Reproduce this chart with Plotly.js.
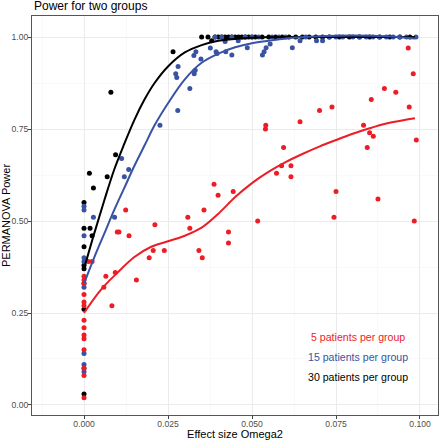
<!DOCTYPE html>
<html>
<head>
<meta charset="utf-8">
<script src="https://cdn.plot.ly/plotly-3.0.1.min.js"></script>
<style>html,body{margin:0;padding:0;background:#fff;}#chart{width:439px;height:440px;}</style>
</head>
<body>
<div id="chart"></div>
<script>
// ---- data ----
const chartTitle = "Power for two groups";
const seriesNames = ["5 patients per group", "15 patients per group", "30 patients per group"];

const redX = [0,0,0,0,0,0,0,0,0,0,0,0,0,0,
  0.0013,0.0024,0.0059,0.0065,0.0083,0.0093,0.0099,0.0104,0.0124,0.0134,0.0156,0.0194,0.0206,0.0211,0.0239,
  0.0309,0.0315,0.0342,0.0352,0.0357,0.0387,0.0399,0.043,0.043,0.0444,0.0517,0.054,0.0541,0.0573,0.0588,
  0.0594,0.0616,0.0616,0.0643,0.0701,0.0738,0.0744,0.075,0.0832,0.0843,0.085,0.0855,0.0861,0.0875,0.0894,
  0.0928,0.0965,0.0968,0.098,0.0983,0.0989];
const redY = [0.35,0.34,0.33,0.30,0.28,0.27,0.23,0.21,0.19,0.18,0.15,0.10,0.08,0.02,
  0.39,0.39,0.32,0.35,0.27,0.36,0.47,0.47,0.53,0.46,0.34,0.40,0.42,0.49,0.42,
  0.51,0.48,0.42,0.40,0.53,0.60,0.57,0.47,0.44,0.58,0.50,0.75,0.76,0.63,0.65,
  0.70,0.65,0.62,0.77,0.80,0.81,0.51,0.58,0.76,0.70,0.74,0.83,0.73,0.56,0.86,
  0.85,0.97,0.81,0.90,0.50,0.72];

const blueX = [0,0,0,0,0,0,0,0,0,0,0,
  0.0028,0.0091,0.0112,0.0133,0.012,0.0226,0.0279,0.0273,0.0276,0.028,0.0315,0.0328,0.0331,0.0327,0.0333,
  0.0348,0.0376,0.0393,0.0396,0.0422,0.044,0.0459,0.0486,0.0531,0.0536,0.0542,0.0554,0.062,0.0643,0.0692,
  0.071,0.042,
  0.039,0.041,0.044,0.048,0.050,0.052,0.056,0.058,0.060,0.066,0.073,0.075,0.077,0.080,0.082,0.084,0.086,
  0.088,0.090,0.092,0.094,0.096,0.0988];
const blueY = [0.54,0.53,0.46,0.40,0.39,0.33,0.32,0.14,0.11,0.10,0.09,
  0.51,0.51,0.67,0.64,0.62,0.76,0.80,0.90,0.89,0.92,0.86,0.90,0.91,0.95,0.96,
  0.94,0.97,0.96,0.955,0.96,0.951,0.99,0.971,0.951,0.96,0.971,0.981,0.971,0.99,0.99,
  0.99,0.988,
  1,1,1,1,1,1,1,1,1,1,1,1,1,1,1,1,1,
  1,1,1,1,1,1];

const blackX = [0,0,0,0,0,0,0,
  0.0016,0.0028,0.0018,0.0024,0.0069,0.008,0.0094,0.0265,0.0369,0.038,
  0.035,0.039,0.040,0.041,0.042,0.043,0.044,0.045,0.046,0.047,0.048,0.049,0.050,0.051,0.053,0.055,0.057,
  0.059,0.061,0.063,0.065,0.067,0.069,0.071,0.073,0.076,0.079,0.082,0.085,0.088,0.091,0.094,0.097];
const blackY = [0.55,0.48,0.43,0.38,0.37,0.26,0.03,
  0.63,0.59,0.48,0.46,0.62,0.85,0.68,0.96,1.0,0.99,
  1,1,1,1,1,1,1,1,1,1,1,1,1,1,1,1,1,
  1,1,1,1,1,1,1,1,1,1,1,1,1,1,1,1];

// smoothed (loess) curves
const redSmoothX = [0,0.005,0.01,0.015,0.02,0.025,0.03,0.035,0.04,0.045,0.05,0.055,0.06,0.065,0.07,0.075,0.08,0.085,0.09,0.095,0.0985];
const redSmoothY = [0.25,0.313,0.36,0.402,0.43,0.445,0.46,0.482,0.52,0.565,0.603,0.634,0.66,0.682,0.702,0.72,0.737,0.752,0.765,0.774,0.779];
const blueSmoothX = [0,0.003,0.006,0.009,0.012,0.015,0.018,0.021,0.025,0.03,0.035,0.04,0.045,0.05,0.055,0.06,0.07,0.08,0.09,0.0985];
const blueSmoothY = [0.33,0.40,0.465,0.53,0.59,0.65,0.705,0.76,0.82,0.885,0.93,0.955,0.972,0.983,0.99,0.996,1.002,1.004,1.002,0.996];
const blackSmoothX = [0,0.003,0.006,0.009,0.012,0.015,0.018,0.021,0.025,0.03,0.035,0.04,0.05,0.06,0.07,0.08,0.09,0.0985];
const blackSmoothY = [0.37,0.465,0.555,0.64,0.71,0.775,0.83,0.875,0.92,0.958,0.978,0.99,0.998,1.0,1.0,1.0,1.0,1.0];

const xTickVals = [0, 0.025, 0.05, 0.075, 0.1];
const xTickText = ["0.000", "0.025", "0.050", "0.075", "0.100"];
const yTickVals = [0, 0.25, 0.5, 0.75, 1];
const yTickText = ["0.00", "0.25", "0.50", "0.75", "1.00"];

const RED = "#ee1c25", BLUE = "#3853a4", BLACK = "#000000";
const FONT = "Liberation Sans, Arial, sans-serif";

function pts(x, y, c, name) {
  return {x: x, y: y, type: "scatter", mode: "markers", name: name, showlegend: false,
    marker: {color: c, size: 5}, hoverinfo: "skip"};
}
function line(x, y, c, name) {
  return {x: x, y: y, type: "scatter", mode: "lines", name: name, showlegend: false,
    line: {color: c, width: 2, shape: "spline", smoothing: 1}, hoverinfo: "skip"};
}

const data = [
  pts(blackX, blackY, BLACK, seriesNames[2]),
  pts(blueX, blueY, BLUE, seriesNames[1]),
  pts(redX, redY, RED, seriesNames[0]),
  line(blackSmoothX, blackSmoothY, BLACK, seriesNames[2]),
  line(blueSmoothX, blueSmoothY, BLUE, seriesNames[1]),
  line(redSmoothX, redSmoothY, RED, seriesNames[0])
];

const layout = {
  width: 439, height: 440,
  margin: {l: 32, r: 1, t: 16, b: 25, pad: 0},
  paper_bgcolor: "#ffffff", plot_bgcolor: "#ffffff",
  font: {family: FONT, color: "#000"},
  xaxis: {
    range: [-0.01548, 0.10536], tickvals: xTickVals, ticktext: xTickText,
    showgrid: true, gridcolor: "#ebebeb", gridwidth: 1, zeroline: false,
    minor: {dtick: 0.0125, tick0: 0, showgrid: true, gridcolor: "#f5f5f5", gridwidth: 0.6},
    showline: true, mirror: true, linecolor: "#555", linewidth: 1,
    ticks: "outside", ticklen: 3, tickcolor: "#444", tickwidth: 1,
    ticklabelstandoff: -2,
    tickfont: {size: 8.6, color: "#4d4d4d", family: FONT},
    title: {text: "Effect size Omega2", font: {size: 11, color: "#000", family: FONT}, standoff: 4},
    automargin: false, fixedrange: true
  },
  yaxis: {
    range: [-0.0272, 1.0571], tickvals: yTickVals, ticktext: yTickText,
    showgrid: true, gridcolor: "#ebebeb", gridwidth: 1, zeroline: false,
    minor: {dtick: 0.125, tick0: 0, showgrid: true, gridcolor: "#f5f5f5", gridwidth: 0.6},
    showline: true, mirror: true, linecolor: "#555", linewidth: 1,
    ticks: "outside", ticklen: 3, tickcolor: "#444", tickwidth: 1,
    ticklabelstandoff: -2,
    tickfont: {size: 8.6, color: "#4d4d4d", family: FONT},
    title: {text: "PERMANOVA Power", font: {size: 11, color: "#000", family: FONT}, standoff: 4},
    automargin: false, fixedrange: true
  },
  annotations: [
    {text: chartTitle, x: 0, y: 1 + 10/399, xref: "paper", yref: "paper", showarrow: false,
      font: {size: 12, color: "#000", family: FONT}, xanchor: "left", yanchor: "middle"},
    {text: seriesNames[0], x: 0.0814, y: 0.1856, xref: "x", yref: "y", showarrow: false,
      font: {size: 10.6, color: RED, family: FONT}, xanchor: "center", yanchor: "middle"},
    {text: seriesNames[1], x: 0.0814, y: 0.1313, xref: "x", yref: "y", showarrow: false,
      font: {size: 10.6, color: BLUE, family: FONT}, xanchor: "center", yanchor: "middle"},
    {text: seriesNames[2], x: 0.0814, y: 0.0769, xref: "x", yref: "y", showarrow: false,
      font: {size: 10.6, color: BLACK, family: FONT}, xanchor: "center", yanchor: "middle"}
  ]
};

Plotly.newPlot("chart", data, layout, {displayModeBar: false, staticPlot: true});
</script>
</body>
</html>
